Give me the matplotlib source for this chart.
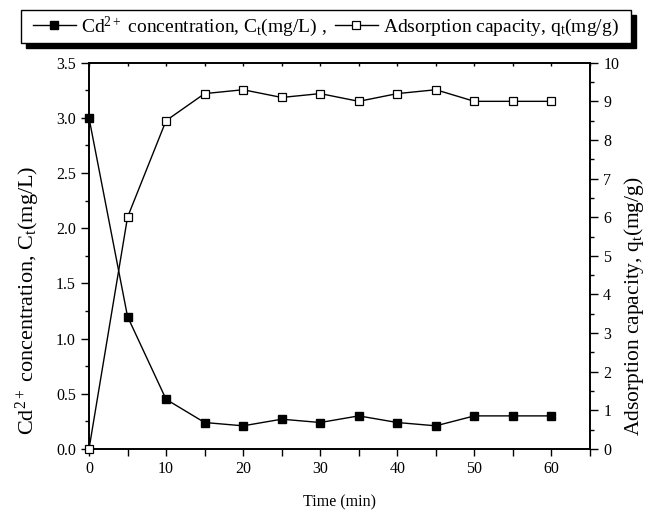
import matplotlib
matplotlib.use("Agg")
import matplotlib.pyplot as plt
from matplotlib.ticker import MultipleLocator
from matplotlib.patches import Rectangle

plt.rcParams['font.family'] = ['Liberation Serif', 'DejaVu Serif']
plt.rcParams['mathtext.fontset'] = 'custom'
plt.rcParams['mathtext.rm'] = 'Liberation Serif'
plt.rcParams['mathtext.it'] = 'Liberation Serif:italic'

time_min = [0, 5, 10, 15, 20, 25, 30, 35, 40, 45, 50, 55, 60]
cd_conc = [3.0, 1.2, 0.45, 0.24, 0.21, 0.27, 0.24, 0.30, 0.24, 0.21, 0.30, 0.30, 0.30]
ads_cap = [0.0, 6.0, 8.5, 9.2, 9.3, 9.1, 9.2, 9.0, 9.2, 9.3, 9.0, 9.0, 9.0]

label_cd = r"Cd$^{2+}$ concentration, C$_{\mathrm{t}}$(mg/L)"
label_q = r"Adsorption capacity, q$_{\mathrm{t}}$(mg/g)"

fig = plt.figure(figsize=(6.49, 5.12), dpi=100)
ax = fig.add_axes([89/649, 1-449/512, (590-89)/649, (449-62.7)/512])
ax2 = ax.twinx()

l1, = ax.plot(time_min, cd_conc, color='black', lw=1.0, marker='s', ms=6,
              mfc='black', mec='black', clip_on=False, zorder=3)
l2, = ax2.plot(time_min, ads_cap, color='black', lw=1.0, marker='s', ms=6,
               mfc='white', mec='black', mew=0.9, clip_on=False, zorder=3)

ax.set_xlim(0, 65)
ax.set_ylim(0, 3.5)
ax2.set_ylim(0, 10)

ax.xaxis.set_minor_locator(MultipleLocator(5))
ax.yaxis.set_major_locator(MultipleLocator(0.5))
ax.yaxis.set_minor_locator(MultipleLocator(0.25))
ax2.yaxis.set_major_locator(MultipleLocator(1))
ax2.yaxis.set_minor_locator(MultipleLocator(0.5))

ax.set_xticks([0, 10, 20, 30, 40, 50, 60])
yt = [0.0, 0.5, 1.0, 1.5, 2.0, 2.5, 3.0, 3.5]
ax.set_yticks(yt)
ax.set_yticklabels([f"{v:.1f}" for v in yt])

ax.tick_params(axis='x', which='both', direction='out', length=5, width=1,
               labelsize=11.5, top=True, labeltop=False)
ax.tick_params(axis='y', which='major', direction='out', length=6, width=1, labelsize=11.5)
ax.tick_params(axis='y', which='minor', direction='out', length=3, width=1)
ax2.tick_params(axis='y', which='major', direction='out', length=6, width=1, labelsize=11.5)
ax2.tick_params(axis='y', which='minor', direction='out', length=3, width=1)

# top ticks small, inward
for t in ax.xaxis.get_major_ticks() + ax.xaxis.get_minor_ticks():
    t.tick2line.set_markersize(2)
    t.tick2line.set_marker(3)

for a in (ax, ax2):
    for s in a.spines.values():
        s.set_linewidth(1.2)

ax.set_xlabel("Time (min)", fontsize=11.5, labelpad=13)
ax.set_ylabel(label_cd, fontsize=16)
ax2.set_ylabel(label_q, fontsize=15.5)
ax.yaxis.set_label_coords(-0.094, 0.385)
ax2.yaxis.set_label_coords(1.064, 0.37)

# legend box with shadow
fig.patches.append(Rectangle((26/649, 1-48/512), (636-26)/649, (48-15)/512,
                             transform=fig.transFigure, facecolor='black',
                             edgecolor='black', zorder=1))
fig.patches.append(Rectangle((21/649, 1-43/512), (631-21)/649, (43-10)/512,
                             transform=fig.transFigure, facecolor='white',
                             edgecolor='black', lw=1.0, zorder=2))
leg = fig.legend([l1, l2], [label_cd + " ,", label_q], loc='center',
                 bbox_to_anchor=(326/649, 1-26.5/512), ncol=2, frameon=False,
                 fontsize=14, handlelength=2.2, handletextpad=0.3,
                 columnspacing=0.4, borderaxespad=0, borderpad=0)
leg.set_zorder(3)

fig.savefig("out.png", dpi=100)
